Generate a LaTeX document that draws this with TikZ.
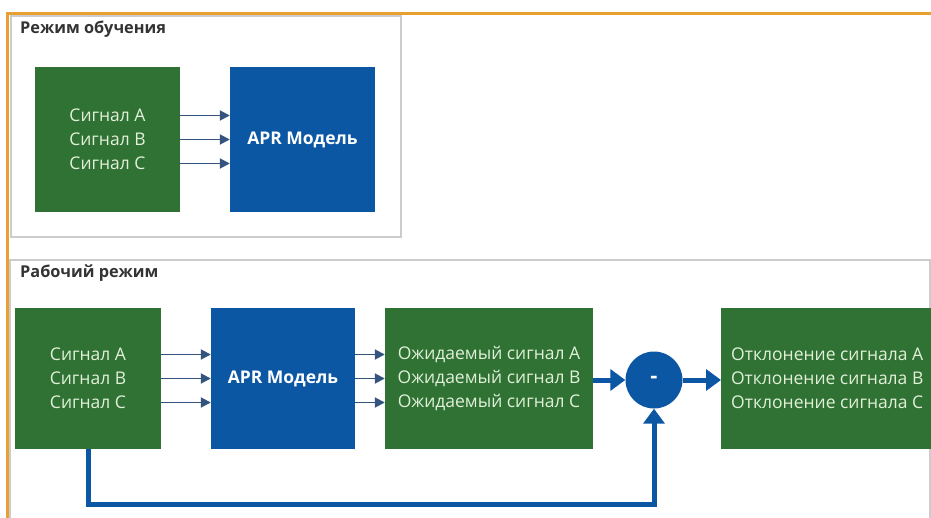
\documentclass[tikz,border=0pt]{standalone}
\usepackage{fontspec}
\setmainfont{Open Sans}
\usetikzlibrary{arrows.meta}
\definecolor{gbox}{HTML}{2F7234}
\definecolor{bbox}{HTML}{0B57A4}
\definecolor{gtext}{HTML}{E2F0D9}
\definecolor{orng}{HTML}{E8A033}
\definecolor{thinarr}{HTML}{34547F}
\definecolor{ttl}{HTML}{333333}
\tikzset{
  greenbox/.style={draw=none,fill=gbox,text=gtext,align=center,inner sep=0pt,
    font=\fontsize{17.5}{24}\selectfont},
  bluebox/.style={draw=none,fill=bbox,text=white,align=center,inner sep=0pt,
    font=\fontsize{17.5}{24}\selectfont\bfseries},
  thinarrow/.style={draw=thinarr,line width=1.8pt,-{Triangle[length=10pt,width=10pt]}},
  thickarrow/.style={draw=bbox,line width=5pt,-{Triangle[length=15pt,width=21pt]}},
  panel/.style={draw=black!20,line width=1.4pt},
  paneltitle/.style={anchor=west,text=ttl,inner sep=0pt,font=\fontsize{16.3}{18}\selectfont\bfseries}
}
\begin{document}
\begin{tikzpicture}[x=1pt,y=-1pt]
\useasboundingbox (0,0) rectangle (931,518);
\fill[white] (0,0) rectangle (931,518);
% panels
\draw[panel] (11,16) rectangle (401,237);
\begin{scope}
\clip (0,0) rectangle (931,518);
\draw[panel] (10,260) rectangle (930,540);
\end{scope}
\draw[orng,line width=3pt] (7,518) -- (7,14) -- (931,14);
\node[paneltitle] (t1) at (20,29) {Режим обучения};
\node[paneltitle] (t2) at (20,273) {Рабочий режим};
% top row
\node[greenbox,minimum width=145pt,minimum height=145pt] (tg) at (107.5,139.5) {Сигнал А\\Сигнал B\\Сигнал C};
\node[bluebox,minimum width=145pt,minimum height=145pt] (tb) at (302.5,139.5) {APR Модель};
\foreach \dy in {-24,0,24}{
  \draw[thinarrow] ([yshift=\dy]tg.east) -- ([yshift=\dy]tb.west);
}
% bottom row
\node[greenbox,minimum width=146pt,minimum height=141pt] (g1) at (88,378.5) {Сигнал А\\Сигнал B\\Сигнал C};
\node[bluebox,minimum width=144pt,minimum height=141pt] (b1) at (283,378.5) {APR Модель};
\node[greenbox,minimum width=208pt,minimum height=141pt] (g2) at (489,378.5) {Ожидаемый сигнал А\\Ожидаемый сигнал B\\Ожидаемый сигнал C};
\node[circle,fill=bbox,minimum size=57pt,inner sep=0pt,text=white,font=\fontsize{22}{22}\selectfont\bfseries] (c) at (654,380) {-};
\node[greenbox,minimum width=212pt,minimum height=141pt,anchor=west] (g3) at (721,378.5) {Отклонение сигнала А\\Отклонение сигнала B\\Отклонение сигнала C};
\foreach \dy in {-24,0,24}{
  \draw[thinarrow] ([yshift=\dy]g1.east) -- ([yshift=\dy]b1.west);
  \draw[thinarrow] ([yshift=\dy]b1.east) -- ([yshift=\dy]g2.west);
}
\draw[thickarrow] (g2.east |- c.west) -- (c.west);
\draw[thickarrow] (c.east) -- (g3.west |- c.east);
\coordinate (fb) at (88,504);
\draw[thickarrow] (g1.south) -- (fb) -| (c.south);
\end{tikzpicture}
\end{document}
